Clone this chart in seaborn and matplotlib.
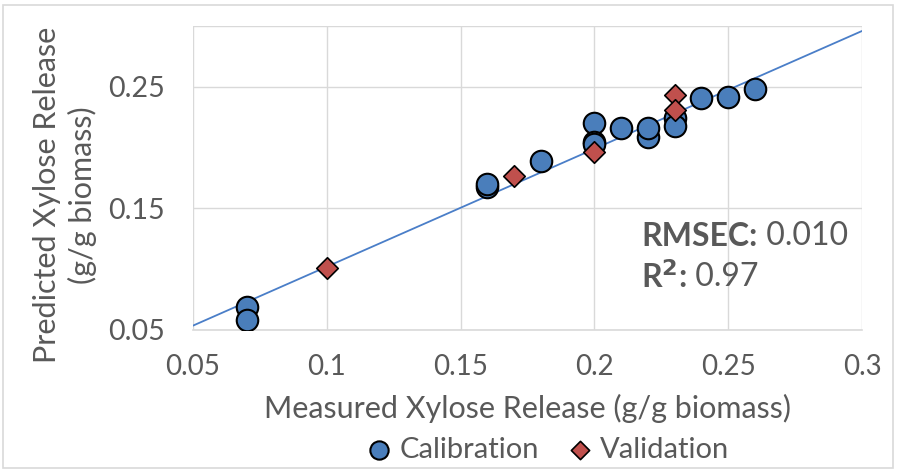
import matplotlib
matplotlib.use("Agg")
import matplotlib.pyplot as plt
import seaborn as sns
import pandas as pd
from matplotlib.patches import Rectangle

# ---- data ----
cal_measured = [0.07, 0.07, 0.16, 0.16, 0.18, 0.20, 0.20, 0.20, 0.21, 0.22, 0.22, 0.23, 0.23, 0.24, 0.25, 0.26]
cal_predicted = [0.069, 0.058, 0.168, 0.170, 0.189, 0.220, 0.205, 0.203, 0.2165, 0.209, 0.216, 0.224, 0.2176, 0.241, 0.242, 0.248]
val_measured = [0.10, 0.17, 0.20, 0.23, 0.23]
val_predicted = [0.1006, 0.177, 0.196, 0.243, 0.231]
trend_x = [0.05, 0.30]
trend_y = [0.0536, 0.2959]
x_ticks = [0.05, 0.1, 0.15, 0.2, 0.25, 0.3]
x_ticklabels = ["0.05", "0.1", "0.15", "0.2", "0.25", "0.3"]
y_ticks = [0.05, 0.15, 0.25]
y_ticklabels = ["0.05", "0.15", "0.25"]

sns.set_theme(style="white")
plt.rcParams["font.family"] = ["Lato", "DejaVu Sans"]

TXT = "#595959"
fig = plt.figure(figsize=(8.97, 4.71), dpi=100)
ax = fig.add_axes([193/897, 1-330/471, (862-193)/897, (330-26)/471])

cal = pd.DataFrame({"m": cal_measured, "p": cal_predicted})
val = pd.DataFrame({"m": val_measured, "p": val_predicted})

ax.plot(trend_x, trend_y, color="#4A7EC8", lw=1.3, zorder=2)
sns.scatterplot(data=cal, x="m", y="p", ax=ax, marker="o", s=240, color="#4A7EBB",
                edgecolor="black", linewidth=1.5, zorder=3, label="Calibration")
sns.scatterplot(data=val, x="m", y="p", ax=ax, marker="D", s=120, color="#C0504D",
                edgecolor="black", linewidth=1.2, zorder=4, label="Validation")

ax.set_xlim(0.05, 0.3)
ax.set_ylim(0.05, 0.3)
ax.set_xticks(x_ticks)
ax.set_xticklabels(x_ticklabels)
ax.set_yticks(y_ticks + [0.3])
ax.set_yticklabels(y_ticklabels + [""])
ax.grid(True, color="#D9D9D9", lw=1)
ax.tick_params(axis="x", length=0, labelsize=20, labelcolor=TXT, pad=17)
ax.tick_params(axis="y", length=0, labelsize=20.5, labelcolor=TXT, pad=20)
for s in ["top", "right", "left"]:
    ax.spines[s].set_visible(False)
ax.spines["bottom"].set_color("#D9D9D9")
ax.spines["bottom"].set_linewidth(1.2)

ax.set_xlabel("Measured Xylose Release (g/g biomass)", fontsize=22, color=TXT, labelpad=10)
ax.set_ylabel("Predicted Xylose Release\n(g/g biomass)", fontsize=22, color=TXT,
              linespacing=1.3)
ax.yaxis.set_label_coords(-0.143, 0.445)

# annotation
t1 = ax.text(0.2175, 0.127, "RMSEC:", fontsize=23, fontweight="bold", color=TXT, va="center", ha="left")
ax.annotate(" 0.010", xy=(1, 0.5), xycoords=t1, fontsize=23, color=TXT, va="center", ha="left")
t2 = ax.text(0.2175, 0.0935, r"R$^\mathbf{2}$:", fontsize=23, fontweight="bold", color=TXT, va="center", ha="left")
ax.annotate(" 0.97", xy=(1, 0.5), xycoords=t2, fontsize=23, color=TXT, va="center", ha="left")

leg = ax.legend(loc="center", bbox_to_anchor=(544/897, 1-450/471), bbox_transform=fig.transFigure,
                ncol=2, frameon=False, fontsize=21, handletextpad=0.0, columnspacing=0.7,
                handlelength=1.4, markerscale=0.85)
for t in leg.get_texts():
    t.set_color(TXT)

fig.patches.append(Rectangle((3/897, 3/471), 890/897, 463/471, transform=fig.transFigure,
                             fill=False, edgecolor="#D9D9D9", lw=1.2))

fig.savefig("out.png", dpi=100, facecolor="white")
